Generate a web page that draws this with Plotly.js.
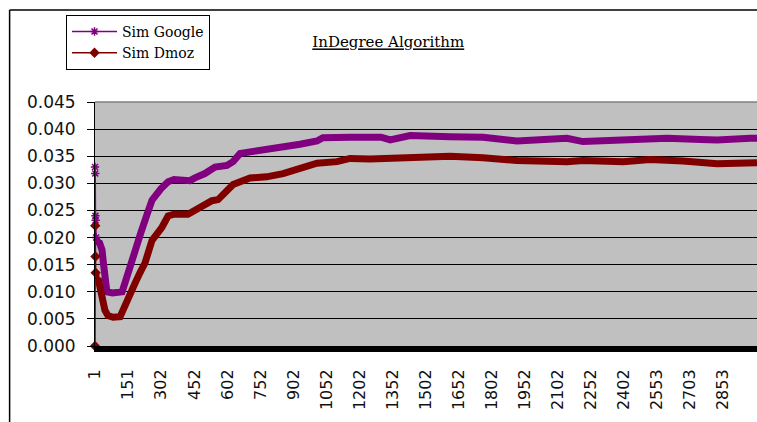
<!DOCTYPE html>
<html>
<head>
<meta charset="utf-8">
<script src="https://cdn.plot.ly/plotly-3.0.1.min.js"></script>
<style>html,body{margin:0;padding:0;background:#fff;}#chart{width:757px;height:422px;}</style>
</head>
<body>
<div id="chart"></div>
<script>
// Tick labels (category numbers shown on the x axis)
const tickLabels = ["1","151","302","452","602","752","902","1052","1202","1352","1502","1652","1802","1952","2102","2252","2402","2553","2703","2853"];

// Sim Google (sampled along the x axis)
const googleX = [1,2,3,4,6,12,22,33,40,46,55,80,110,124,140,160,183,210,235,260,300,333,360,432,455,500,546,600,628,660,705,780,855,932,1009,1036,1159,1300,1341,1400,1432,1613,1763,1917,2050,2144,2217,2400,2520,2599,2750,2826,2976,3007];
const googleY = [0.0330,0.0318,0.0240,0.0232,0.0200,0.0192,0.0190,0.0177,0.0150,0.0118,0.0100,0.0098,0.0098,0.0100,0.0120,0.0148,0.0177,0.0210,0.0240,0.0269,0.0290,0.0303,0.0307,0.0305,0.0310,0.0318,0.0330,0.0333,0.0340,0.0355,0.0358,0.0362,0.0366,0.0372,0.0378,0.0384,0.0385,0.0385,0.0380,0.0386,0.0388,0.0386,0.0385,0.0378,0.0380,0.0383,0.0377,0.0379,0.0380,0.0383,0.0381,0.0380,0.0383,0.0383];

// Sim Dmoz
const dmozX = [1,2,3,4,8,15,25,33,46,60,83,115,137,160,183,205,228,260,305,333,360,423,455,500,532,560,600,628,705,780,855,932,1009,1100,1159,1250,1341,1432,1613,1763,1917,2144,2217,2400,2521,2671,2750,2826,3007];
const dmozY = [0.0000,0.0222,0.0165,0.0135,0.0120,0.0125,0.0105,0.0090,0.0066,0.0056,0.0053,0.0054,0.0072,0.0090,0.0116,0.0135,0.0153,0.0195,0.0219,0.0240,0.0243,0.0243,0.0250,0.0262,0.0268,0.0270,0.0285,0.0298,0.0310,0.0312,0.0318,0.0328,0.0337,0.0340,0.0346,0.0345,0.0346,0.0350,0.0350,0.0347,0.0342,0.0340,0.0342,0.0340,0.0344,0.0341,0.0337,0.0336,0.0338];

const purple = '#800080', maroon = '#800000';
const nG = 5, nD = 4; // leading points drawn as a thin line with markers

const traces = [
  {x: googleX.slice(nG-1), y: googleY.slice(nG-1), mode:'lines', line:{color:purple, width:7}, showlegend:false, hoverinfo:'skip'},
  {x: dmozX.slice(nD-1), y: dmozY.slice(nD-1), mode:'lines', line:{color:maroon, width:7}, showlegend:false, hoverinfo:'skip'},
  {x: googleX.slice(0,nG), y: googleY.slice(0,nG), name:'Sim Google', mode:'lines+markers', cliponaxis:false, line:{color:purple, width:1.5},
   marker:{symbol:'asterisk-open', size:7, color:purple, line:{color:purple, width:1.5}}},
  {x: dmozX.slice(0,nD), y: dmozY.slice(0,nD), name:'Sim Dmoz', mode:'lines+markers', cliponaxis:false, line:{color:maroon, width:1.5},
   marker:{symbol:'diamond', size:8, color:maroon}}
];

const layout = {
  width:757, height:422,
  margin:{l:95, r:0, t:102, b:76},
  paper_bgcolor:'#ffffff', plot_bgcolor:'#c0c0c0',
  title:{text:'InDegree Algorithm', font:{family:'DejaVu Serif', size:15, color:'#000', lineposition:'under'},
         xref:'paper', x:0.443, xanchor:'center', yref:'container', y:0.90, yanchor:'middle'},
  xaxis:{range:[1,3007], tickmode:'array', tickvals:tickLabels.map(Number), ticktext:tickLabels, tickangle:-90,
         showgrid:false, zeroline:false, showline:true, linecolor:'#000', linewidth:6, ticks:'',
         ticklabelstandoff:11, tickfont:{family:'DejaVu Sans', size:16, color:'#111'}},
  yaxis:{range:[0,0.045], dtick:0.005, tickformat:'.3f', showgrid:true, gridcolor:'#000', gridwidth:1,
         zeroline:false, showline:true, linecolor:'#000', linewidth:1, ticks:'outside', ticklen:7, tickcolor:'#000',
         ticklabelstandoff:8, tickfont:{family:'DejaVu Sans', size:17, color:'#111'}},
  legend:{x:-0.0438, y:1.357, xanchor:'left', yanchor:'top', bgcolor:'#fff', bordercolor:'#000', borderwidth:1,
          font:{family:'DejaVu Serif', size:14, color:'#000'}, itemwidth:45},
  shapes:[
    {type:'line', xref:'paper', yref:'paper', x0:0, x1:1, y0:1, y1:1, line:{color:'#808080', width:1.5}},
    {type:'line', xref:'paper', yref:'paper', x0:-0.129, x1:1.1, y0:1.377, y1:1.377, line:{color:'#000', width:1.5}},
    {type:'line', xref:'paper', yref:'paper', x0:-0.129, x1:-0.129, y0:1.377, y1:-0.4, line:{color:'#000', width:1.5}}
  ]
};

Plotly.newPlot('chart', traces, layout, {displayModeBar:false, staticPlot:true});
</script>
</body>
</html>
